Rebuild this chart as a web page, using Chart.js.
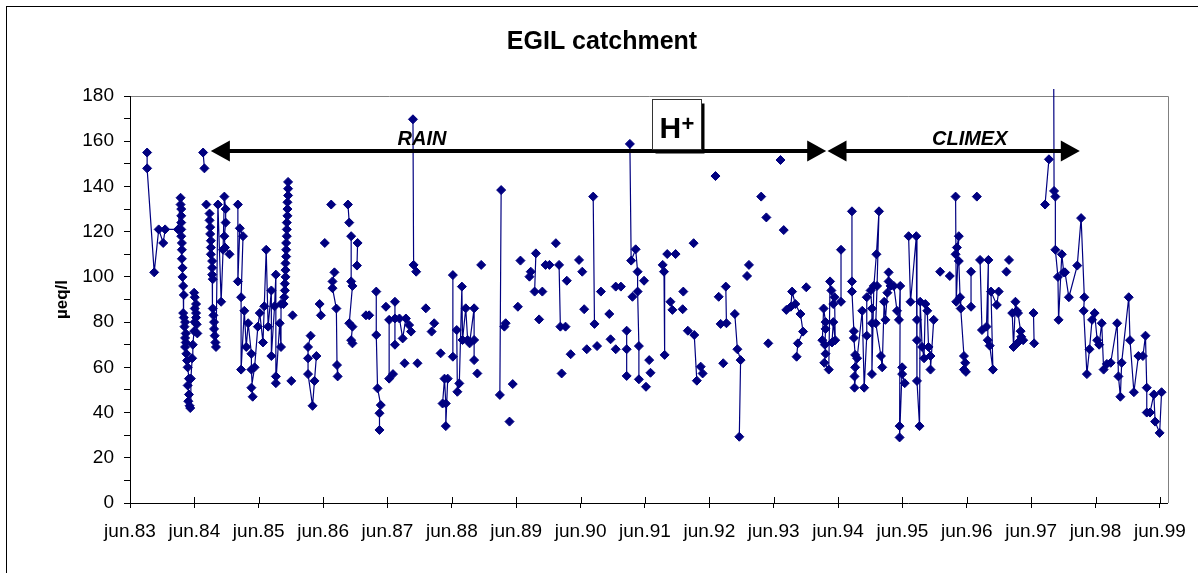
<!DOCTYPE html>
<html>
<head>
<meta charset="utf-8">
<script src="https://cdn.jsdelivr.net/npm/chart.js@4.4.0/dist/chart.umd.min.js"></script>
<style>
  html, body { margin: 0; padding: 0; background: #fff; }
  #wrap { width: 1198px; height: 573px; position: relative; }
</style>
</head>
<body>
<div id="wrap"><canvas id="c"></canvas></div>
<script>
// ---------------- DATA ----------------
const chartTitle = 'EGIL catchment';
const yAxisTitle = 'µeq/l';

// tick positions (decimal year of 1 June) and their labels
const tickYears = [1983.414, 1984.414, 1985.414, 1986.414, 1987.414, 1988.414, 1989.414, 1990.414,
  1991.414, 1992.414, 1993.414, 1994.414, 1995.414, 1996.414, 1997.414, 1998.414, 1999.414];
const tickLabels = ['jun.83', 'jun.84', 'jun.85', 'jun.86', 'jun.87', 'jun.88', 'jun.89', 'jun.90',
  'jun.91', 'jun.92', 'jun.93', 'jun.94', 'jun.95', 'jun.96', 'jun.97', 'jun.98', 'jun.99'];

// sampling date (decimal year); null = break in the line
const years = [
  1983.68,1983.68,1983.79,1983.86,1983.93,1983.96,1984.16,
  1984.20,1984.20,1984.21,1984.21,1984.21,1984.21,1984.21,1984.22,1984.22,1984.22,1984.23,1984.23,1984.24,1984.25,
  1984.24,1984.25,1984.27,1984.26,1984.28,1984.27,1984.28,1984.27,1984.29,1984.30,1984.31,1984.33,1984.31,1984.33,1984.32,1984.34,1984.35,
  1984.36,1984.38,1984.39,1984.41,1984.42,1984.44,1984.44,1984.42,1984.41,1984.42,1984.44,1984.45,1984.46,null,
  1984.55,1984.57,null,
  1984.60,null,
  1984.65,1984.65,1984.66,1984.66,1984.67,1984.67,1984.67,1984.69,1984.69,1984.69,1984.70,
  1984.70,1984.71,1984.72,1984.72,1984.73,1984.74,1984.75,
  1984.78,1984.83,1984.86,1984.88,1984.90,1984.90,1984.88,1984.89,1984.96,null,
  1985.09,1985.09,1985.12,1985.17,1985.14,1985.14,1985.19,1985.22,1985.25,1985.30,1985.30,1985.32,1985.30,1985.35,
  1985.40,1985.43,1985.48,1985.50,1985.53,1985.56,1985.61,1985.61,1985.66,1985.68,1985.68,1985.68,1985.74,1985.76,1985.76,
  1985.80,1985.81,1985.82,1985.82,1985.83,1985.83,1985.83,1985.84,1985.84,1985.84,
  1985.85,1985.85,1985.85,1985.86,1985.86,1985.86,1985.87,1985.87,1985.87,null,
  1985.94,null,1985.92,null,
  1986.22,1986.18,1986.18,1986.18,1986.25,1986.28,1986.31,null,
  1986.36,1986.38,null,1986.44,null,1986.54,null,
  1986.59,1986.56,1986.56,1986.62,1986.63,1986.64,null,
  1986.80,1986.82,null,
  1986.85,1986.85,1986.87,1986.82,1986.87,1986.85,1986.87,null,
  1986.95,1986.94,null,1987.08,1987.13,null,
  1987.24,1987.24,1987.26,1987.31,1987.29,1987.29,null,
  1987.39,null,1987.44,1987.44,1987.50,null,
  1987.53,1987.53,1987.53,null,
  1987.60,1987.65,1987.70,1987.75,1987.78,null,
  1987.68,null,1987.88,null,
  1987.81,1987.82,1987.86,null,
  1988.01,null,1988.10,1988.14,null,1988.24,null,
  1988.27,1988.30,1988.32,1988.32,1988.35,null,
  1988.43,1988.43,null,
  1988.49,1988.50,1988.53,1988.57,1988.58,1988.63,1988.66,1988.69,1988.76,1988.76,1988.76,null,
  1988.81,null,1988.87,null,
  1989.18,1989.16,null,1989.23,1989.25,null,
  1989.31,null,1989.36,null,1989.44,null,1989.48,null,
  1989.62,1989.64,null,1989.72,1989.70,1989.82,null,
  1989.77,null,1989.87,null,1989.93,null,1990.03,null,
  1990.08,1990.10,1990.18,null,
  1990.12,null,1990.20,null,1990.26,null,1990.39,null,1990.44,null,1990.47,null,1990.51,null,
  1990.61,1990.63,null,1990.67,null,1990.73,null,1990.86,null,1990.88,null,1990.96,null,
  1990.96,1991.04,null,1991.13,1991.13,1991.13,null,
  1991.18,1991.20,1991.27,1991.30,1991.30,1991.32,1991.32,null,
  1991.22,null,1991.40,null,1991.43,null,1991.48,null,1991.50,null,
  1991.69,1991.71,1991.72,null,1991.76,null,1991.89,null,
  1991.81,1991.84,null,1992.00,null,1992.01,null,1992.17,null,
  1992.08,1992.18,1992.22,null,1992.28,1992.31,null,
  1992.51,null,1992.56,null,1992.67,1992.68,null,1992.59,null,1992.63,null,
  1992.81,1992.85,1992.90,1992.88,null,
  1993.00,null,1993.03,null,1993.22,null,1993.30,null,1993.52,null,1993.57,null,1993.33,null,
  1993.61,1993.68,1993.70,1993.75,1993.83,1993.87,1993.79,1993.77,null,1993.92,null,
  1994.17,1994.19,1994.22,1994.22,1994.21,1994.22,1994.20,1994.27,
  1994.29,1994.31,1994.34,1994.36,1994.37,1994.34,1994.32,null,
  1994.46,1994.46,null,
  1994.63,1994.63,1994.63,1994.66,1994.66,1994.68,1994.68,1994.67,1994.67,1994.71,1994.79,1994.82,
  1994.86,1994.86,1994.92,1994.94,1994.94,1994.94,1994.97,1995.01,1995.05,1995.02,1995.00,
  1995.08,1995.10,1995.13,1995.15,1995.18,1995.20,1995.20,1995.23,1995.28,1995.33,1995.36,1995.38,
  1995.37,1995.37,1995.41,1995.41,1995.45,null,
  1995.51,1995.54,1995.63,1995.64,1995.64,1995.64,1995.68,1995.69,
  1995.72,1995.75,1995.77,1995.80,1995.82,1995.85,1995.85,1995.90,null,
  1996.00,null,1996.15,null,
  1996.24,1996.25,1996.29,1996.26,1996.24,1996.29,1996.31,1996.32,1996.37,1996.37,1996.39,1996.40,null,
  1996.48,1996.48,null,1996.57,null,
  1996.62,1996.65,1996.72,1996.75,1996.74,1996.77,1996.82,1996.79,1996.88,1996.91,null,
  1997.03,null,1997.07,null,
  1997.12,1997.14,1997.17,1997.19,1997.21,1997.25,1997.21,1997.29,1997.26,null,
  1997.45,1997.46,null,1997.63,1997.69,null,
  1997.76,1997.77,1997.79,1997.79,1997.83,1997.84,1997.89,1997.92,1997.94,1998.00,
  1998.13,1998.19,1998.24,1998.23,1998.28,1998.32,1998.36,1998.40,1998.44,1998.47,1998.51,1998.54,
  1998.59,1998.65,1998.75,1998.77,1998.80,1998.82,1998.93,1998.95,1999.01,1999.08,1999.15,
  1999.19,1999.21,1999.21,1999.26,1999.32,1999.34,1999.41,1999.44
];

// H+ concentration, µeq/l (null = break in the line)
const ueq = [
  155,148,102,121,115,121,121,
  135,132,130,127,124,121,118,115,112,108,104,100,96,92,
  84,82,80,78,75,73,71,69,66,63,60,55,52,48,45,43,42,
  55,64,70,76,80,84,88,91,93,86,82,79,75,null,
  155,148,null,
  132,null,
  128,125,122,119,116,113,110,107,104,101,99,
  86,83,80,77,74,71,69,
  132,89,112,135.5,130,124,118,113,110,null,
  132,98,121.5,118,91,59,85,69,79.5,66,59,47,51,60,
  78,84,71,87,112,78,94,65,87,101,56,53,79.5,69,88,
  88,91,94,97,100,103,106,109,112,115,
  118,121,124,127,130,133,136,139,142,null,
  83,null,54,null,
  74,69,64,57,43,54,65,null,
  88,83,null,115,null,132,null,
  102,98,95,86,61,56,null,
  132,124,null,
  118,98,96,79.5,78,72,70.6,null,
  115,105,null,83,83,null,
  93.5,74.3,50.7,43.3,39.7,32.3,null,
  86.8,null,81,55,57,null,
  89,81.6,70,null,
  81.6,72.8,81.6,78.7,75.8,null,
  61.8,null,61.8,null,
  169.7,105.3,102.3,null,
  86.1,null,75.8,79.5,null,66.2,null,
  44,55,44,34,55,null,
  100.8,64.7,null,
  76.5,49.2,52.9,95.7,72.1,86.1,72.1,70.6,86.1,72.1,63.2,null,
  57.3,null,105.3,null,
  138.4,47.8,null,78,79.5,null,
  36,null,52.6,null,86.8,null,107.2,null,
  100.1,102.3,null,110.4,93.5,93.5,null,
  81.2,null,105.3,null,105.3,null,114.9,null,
  105.3,78,78,null,
  57.3,null,98.3,null,65.8,null,107.5,null,102.3,null,85.7,null,68,null,
  135.5,79.2,null,69.4,null,93.5,null,83.6,null,72.4,null,68,null,
  95.7,95.7,null,76.2,68,56.2,null,
  158.8,107.2,112.2,102.3,93.5,69.4,54.7,null,
  91.2,null,98.3,null,51.4,null,63.2,null,57.6,null,
  105.3,102.3,65.5,null,110.1,null,110.1,null,
  89,85.4,null,85.7,null,93.5,null,114.9,null,
  76.2,74.3,54.1,null,60.3,57.3,null,
  144.6,null,91.2,null,95.7,79.5,null,79.2,null,61.8,null,
  83.6,68,63.2,29.3,null,
  100.4,null,105.3,null,135.5,null,126.3,null,151.7,null,120.7,null,70.6,null,
  85.4,86.8,93.5,88,83.6,75.8,70.6,64.7,null,95.4,null,
  72,86,80,77,70,66,62,59,
  98,94,88,91,72,80,71,null,
  112,89,null,
  129,98,93.5,76,73,65.5,60,56,51,64,85,51,
  74,91,94,86,79.5,57,96,110,129,96,79.5,
  65,60,89,81,93,102,98,96,96,85,81,96,
  34,29,60,57,53,null,
  118,89,118,81,72,54,34,89,
  69,64,88,85,69,65,59,81,null,
  102.3,null,100.4,null,
  135.5,89,118,113,110,107,91,86,65,59,62,58,null,
  102.3,86.8,null,135.5,null,
  107.5,76.5,78,107.5,72,69.6,59,93.5,87.6,93.5,null,
  102.3,null,107.5,null,
  84,69,89,85,84,76,71,72,73.5,null,
  84,70.6,null,132,152,null,
  230,138,135.5,112,100,81,110,102,102,91,
  105,126,91,85,57,68,81,84,72,70,79.5,59,
  61.5,62,79.5,56,47,62,91,72,49,65,65,
  74,51,40,40,48,36,31,49
];

// period annotations (arrows)
const periodNames = ['RAIN', 'CLIMEX'];
const periodStart = [1984.67, 1994.25];
const periodEnd = [1994.23, 1998.17];
const periodLabelYear = [1987.95, 1996.46];
const periodLevel = 155.7;        // µeq/l level of the arrows
const periodLabelLevel = 158.3;   // baseline of the period names
// ion label box
const ionText = 'H';
const ionSup = '+';
const ionBoxYear = 1991.53;       // left edge of box
const ionBoxLevel = 156.6;        // bottom edge of box

// ---------------- CHART ----------------
if (years.length !== ueq.length) throw new Error('length mismatch ' + years.length + ' vs ' + ueq.length);

const FONT = "'Liberation Sans', Arial, Helvetica, sans-serif";
const NAVY = '#000080';
const points = years.map((x, i) => ({ x: x, y: ueq[i] }));

const decor = {
  id: 'decor',
  beforeDraw(chart) {
    const { ctx, width, height, chartArea: a } = chart;
    ctx.save();
    ctx.fillStyle = '#fff';
    ctx.fillRect(0, 0, width, height);
    ctx.strokeStyle = '#000';
    ctx.lineWidth = 1;
    ctx.strokeRect(6.5, 6.5, width + 40, height + 40);
    // chart title, centred on the outer frame
    ctx.fillStyle = '#000';
    ctx.font = 'bold 25px ' + FONT;
    ctx.textAlign = 'center';
    ctx.textBaseline = 'alphabetic';
    ctx.fillText(chartTitle, 602, 49);
    // grey plot-area frame (top and right)
    ctx.strokeStyle = '#808080';
    ctx.beginPath();
    ctx.moveTo(a.left, Math.round(a.top) + 0.5);
    ctx.lineTo(Math.round(a.right) + 0.5, Math.round(a.top) + 0.5);
    ctx.lineTo(Math.round(a.right) + 0.5, a.bottom);
    ctx.stroke();
    ctx.restore();
  },
  afterDraw(chart) {
    const { ctx, chartArea: a } = chart;
    const xs = chart.scales.x, ys = chart.scales.y;
    ctx.save();
    // upper half of the crossing x ticks
    ctx.strokeStyle = '#000';
    ctx.lineWidth = 1;
    ctx.beginPath();
    tickYears.forEach(v => {
      const px = Math.round(xs.getPixelForValue(v)) + 0.5;
      ctx.moveTo(px, a.bottom - 6);
      ctx.lineTo(px, a.bottom);
    });
    ctx.stroke();

    // period arrows
    const yArrow = ys.getPixelForValue(periodLevel);
    const hl = 19, hw = 10.5;
    ctx.fillStyle = '#000';
    ctx.lineWidth = 4;
    periodNames.forEach((name, i) => {
      const x1 = xs.getPixelForValue(periodStart[i]);
      const x2 = xs.getPixelForValue(periodEnd[i]);
      ctx.beginPath();
      ctx.moveTo(x1 + hl - 1, yArrow);
      ctx.lineTo(x2 - hl + 1, yArrow);
      ctx.stroke();
      ctx.beginPath();
      ctx.moveTo(x1, yArrow); ctx.lineTo(x1 + hl, yArrow - hw); ctx.lineTo(x1 + hl, yArrow + hw); ctx.closePath();
      ctx.fill();
      ctx.beginPath();
      ctx.moveTo(x2, yArrow); ctx.lineTo(x2 - hl, yArrow - hw); ctx.lineTo(x2 - hl, yArrow + hw); ctx.closePath();
      ctx.fill();
      ctx.font = 'italic bold 20px ' + FONT;
      ctx.textAlign = 'center';
      ctx.textBaseline = 'alphabetic';
      ctx.fillText(name, xs.getPixelForValue(periodLabelYear[i]), ys.getPixelForValue(periodLabelLevel));
    });

    // H+ box
    const bx = Math.round(xs.getPixelForValue(ionBoxYear)) + 0.5;
    const bb = Math.round(ys.getPixelForValue(ionBoxLevel)) + 0.5;
    const bw = 49, bh = 50;
    const bt = bb - bh;
    ctx.fillStyle = '#000';
    ctx.fillRect(bx + 3, bt + 4, bw, bh);
    ctx.fillStyle = '#fff';
    ctx.fillRect(bx, bt, bw, bh);
    ctx.strokeStyle = '#333';
    ctx.lineWidth = 1;
    ctx.strokeRect(bx, bt, bw, bh);
    ctx.fillStyle = '#000';
    ctx.textAlign = 'left';
    ctx.textBaseline = 'alphabetic';
    ctx.font = 'bold 30px ' + FONT;
    ctx.fillText(ionText, bx + 7, bt + 38);
    ctx.font = 'bold 22px ' + FONT;
    ctx.fillText(ionSup, bx + 29, bt + 31);
    ctx.restore();
  }
};

new Chart(document.getElementById('c'), {
  type: 'line',
  data: {
    datasets: [{
      data: points,
      parsing: { xAxisKey: 'x', yAxisKey: 'y' },
      borderColor: NAVY,
      borderWidth: 1.2,
      backgroundColor: NAVY,
      pointStyle: 'rectRot',
      pointRadius: 4.5,
      pointBorderWidth: 1,
      pointBackgroundColor: NAVY,
      pointBorderColor: NAVY,
      spanGaps: false,
      tension: 0,
      fill: false,
      clip: { left: 12, top: 7, right: 12, bottom: 12 }
    }]
  },
  options: {
    responsive: true,
    maintainAspectRatio: false,
    animation: false,
    events: [],
    devicePixelRatio: 1,
    layout: { padding: { left: 0, right: 29, top: 96, bottom: 0 } },
    plugins: {
      legend: { display: false },
      tooltip: { enabled: false },
      title: { display: false }
    },
    scales: {
      x: {
        type: 'linear',
        min: 1983.414,
        max: 1999.537,
        afterBuildTicks: s => { s.ticks = tickYears.map(v => ({ value: v })); },
        afterFit: s => { s.height = 70; },
        ticks: {
          autoSkip: false,
          maxRotation: 0,
          minRotation: 0,
          padding: 12,
          color: '#000',
          font: { family: FONT, size: 19 },
          callback: (v, i) => tickLabels[i]
        },
        grid: { drawOnChartArea: false, drawTicks: true, tickLength: 5, color: '#000', lineWidth: 1 },
        border: { display: true, color: '#000', width: 1 }
      },
      y: {
        min: 0,
        max: 180,
        afterFit: s => { s.width = 130; },
        ticks: {
          stepSize: 10,
          autoSkip: false,
          padding: 10,
          color: '#000',
          font: { family: FONT, size: 19 },
          callback: v => (v % 20 === 0 ? String(v) : '')
        },
        grid: { drawOnChartArea: false, drawTicks: true, tickLength: 6, color: '#000', lineWidth: 1 },
        border: { display: true, color: '#000', width: 1 },
        title: {
          display: true,
          text: yAxisTitle,
          color: '#000',
          font: { family: FONT, size: 17, weight: 'bold', lineHeight: 1.2 },
          padding: { top: 52, bottom: 0 }
        }
      }
    }
  },
  plugins: [decor]
});
</script>
</body>
</html>
